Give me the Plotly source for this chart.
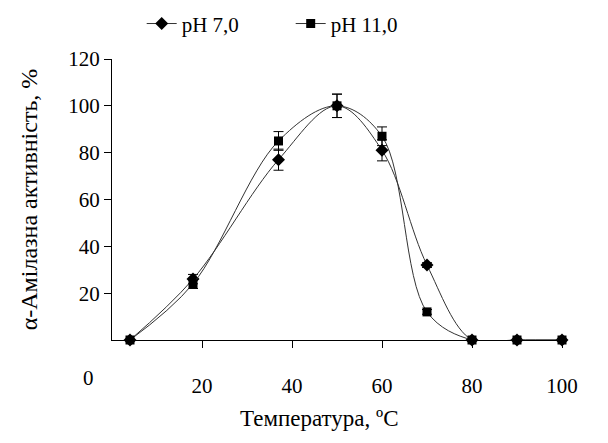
import plotly.graph_objects as go

temp = [4, 18, 37, 50, 60, 70, 80, 90, 100]
ph7 = [0, 26, 77, 100, 81, 32, 0, 0, 0]
ph7_err = [0, 2, 4.5, 5, 4.5, 1, 0, 0, 0]
ph11 = [0, 24, 85, 100, 87, 12, 0, 0, 0]
ph11_err = [0, 2, 4, 5, 4, 1, 0, 0, 0]

font = "Liberation Serif, Times New Roman, serif"

fig = go.Figure()
fig.add_trace(go.Scatter(
    x=temp, y=ph7, name="pH 7,0", mode="lines+markers",
    line=dict(color="#333333", width=1, shape="spline", smoothing=1),
    marker=dict(symbol="diamond", size=10, color="black"),
    error_y=dict(type="data", array=ph7_err, color="black", thickness=1, width=5),
    cliponaxis=False,
))
fig.add_trace(go.Scatter(
    x=temp, y=ph11, name="pH 11,0", mode="lines+markers",
    line=dict(color="#333333", width=1, shape="spline", smoothing=1),
    marker=dict(symbol="square", size=9, color="black"),
    error_y=dict(type="data", array=ph11_err, color="black", thickness=1, width=5),
    cliponaxis=False,
))

# page body has an 8px margin, so margins are shifted by 8
fig.update_layout(
    width=608, height=443,
    margin=dict(l=104, r=54, t=51, b=111, autoexpand=False),
    paper_bgcolor="white", plot_bgcolor="white",
    font=dict(family=font, size=21, color="black"),
    showlegend=True,
    legend=dict(orientation="h", x=0.066, y=1.125, xanchor="left", yanchor="middle",
                itemwidth=30, entrywidth=104, entrywidthmode="pixels",
                font=dict(size=21), tracegroupgap=0),
    xaxis=dict(range=[0, 100], tickvals=[20, 40, 60, 80, 100],
               showline=True, linecolor="black", linewidth=1,
               ticks="outside", ticklen=7, tickcolor="black",
               ticklabelstandoff=20, showgrid=False, zeroline=False,
               automargin=False),
    yaxis=dict(range=[0, 120], tickvals=[20, 40, 60, 80, 100, 120],
               showline=True, linecolor="black", linewidth=1,
               ticks="outside", ticklen=7, tickcolor="black",
               showgrid=False, zeroline=False, automargin=False,
               title=dict(text="α-Амілазна активність, %", standoff=23,
                          font=dict(size=24))),
    annotations=[
        dict(text="0", x=0, y=0, xref="x", yref="y", showarrow=False,
             xshift=-24, yshift=-38, font=dict(size=21)),
        dict(text="Температура, ºС", x=0.462, y=-0.278, xref="paper", yref="paper",
             yanchor="middle", showarrow=False, font=dict(size=23)),
    ],
)

fig.write_html("out.html")
